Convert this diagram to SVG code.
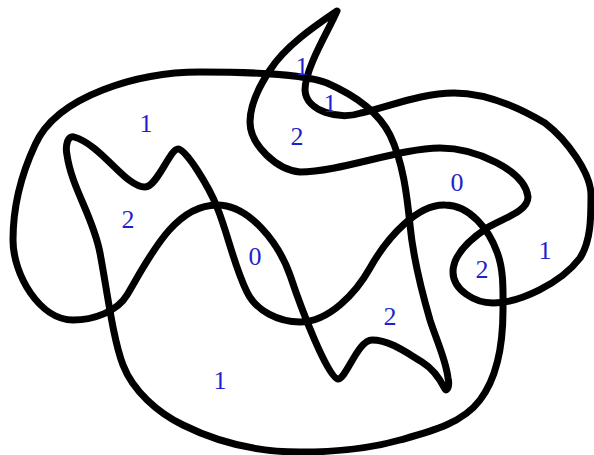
<svg xmlns="http://www.w3.org/2000/svg" width="594" height="455" viewBox="0 0 594 455">
<style>
.curve{fill:none;stroke:#000;stroke-width:7;stroke-linejoin:round;stroke-linecap:round}
.lbl{font-family:"Liberation Serif","Times New Roman",serif;font-size:26px;fill:#1f1fd0;text-anchor:middle}
</style>
<rect width="594" height="455" fill="#fff"/>
<g id="curves">
<path id="curve-hook" class="curve" d="M337,11 C318,24 286,45 270,70 C260,85 250,104 250,122 C250,145 277,170 300,172 C340,172 400,148 440,148 C475,148 525,170 528,197 C528,212 501,219 487,228 C472,238 453,254 453,272 C453,290 475,303 493,303 C520,303 561,283 580,258 C591,241 591,217 591,195 C591,173 567,140 545,123 C518,107 486,93 454,93 C422,93 391,106 361,113 C340,120 306,112 305,90 C305,68 330,28 337,11 Z"/>
<path id="curve-big" class="curve" d="M200,72 C140,72 57,95 35,145 C21,175 13,208 13,240 C13,275 40,320 73,320 C93,320 117,312 127,295 C149,258 174,205 217,205 C250,205 279,244 290,275 C302,311 328,378 338,379 C346,379 358,340 372,340 C390,340 407,353 422,362 C435,370 443,385 445,389 C447,392 450,386 448,378 C446,360 436,339 430,320 C421,289 413,257 410,225 C407,195 403,162 390,135 C378,111 352,94 327,83 C300,73 245,72 200,72 Z"/>
<path id="curve-zigzag" class="curve" d="M178,149 C186,149 209,187 217,207 C228,234 234,266 247,292 C256,311 279,322 300,322 C329,322 356,293 370,268 C388,236 418,204 445,205 C470,205 489,230 497,252 C504,270 503,291 503,310 C503,341 499,375 480,400 C462,424 429,432 400,440 C368,449 333,452 300,452 C260,452 219,443 183,425 C158,413 133,391 123,365 C113,339 107,290 100,253 C93,216 72,189 67,155 C65,145 68,135 74,137 C102,145 125,187 145,187 C157,187 170,149 178,149 Z"/>
</g>
<g id="labels">
<text class="lbl" x="146" y="132">1</text>
<text class="lbl" x="128" y="228">2</text>
<text class="lbl" x="302" y="75">1</text>
<text class="lbl" x="330" y="112">1</text>
<text class="lbl" x="297" y="145">2</text>
<text class="lbl" x="457" y="191">0</text>
<text class="lbl" x="255" y="265">0</text>
<text class="lbl" x="482" y="278">2</text>
<text class="lbl" x="545" y="259">1</text>
<text class="lbl" x="390" y="325">2</text>
<text class="lbl" x="220" y="389">1</text>
</g>
</svg>
